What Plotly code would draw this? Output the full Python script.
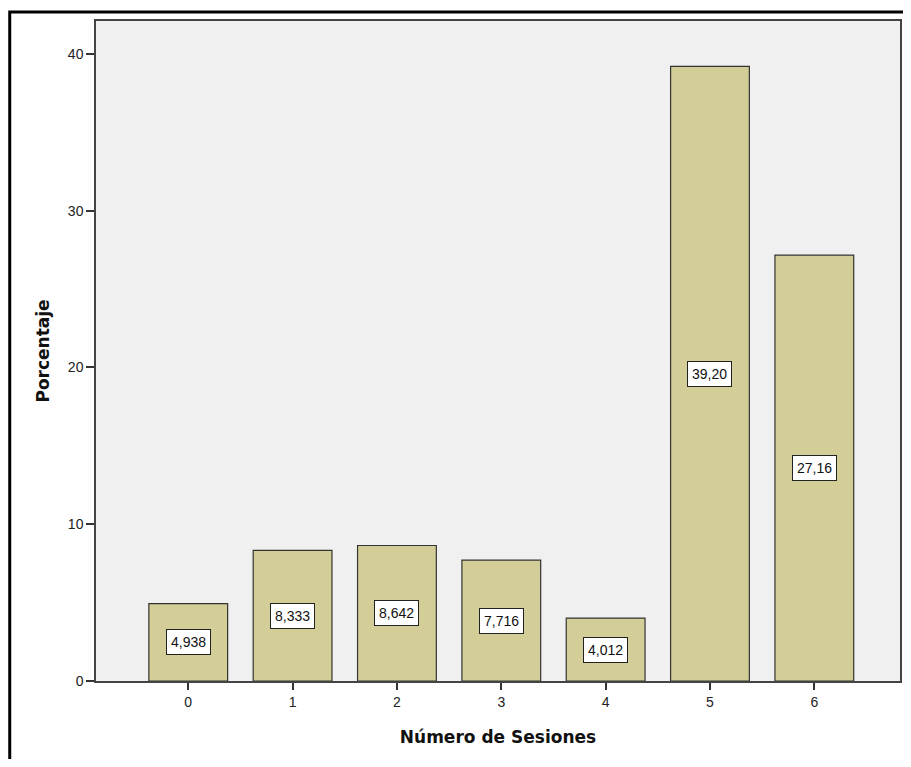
import plotly.graph_objects as go

sesiones = [0, 1, 2, 3, 4, 5, 6]
porcentaje = [4.938, 8.333, 8.642, 7.716, 4.012, 39.20, 27.16]
etiquetas = ["4,938", "8,333", "8,642", "7,716", "4,012", "39,20", "27,16"]
y_ticks = [0, 10, 20, 30, 40]

BAR_COLOR = "#D3CE97"
BG = "#F0F0F0"
FONT = "DejaVu Sans"
TICKFONT = "Liberation Sans"

fig = go.Figure()
fig.add_trace(go.Bar(
    x=sesiones, y=porcentaje, width=0.755,
    marker=dict(color=BAR_COLOR, line=dict(color="#333333", width=1.2)),
    hoverinfo="x+y", showlegend=False,
))

for xv, yv, lab in zip(sesiones, porcentaje, etiquetas):
    fig.add_annotation(
        x=xv, y=yv / 2, text=lab, showarrow=False,
        font=dict(family=TICKFONT, size=14, color="#111111"),
        bgcolor="white", bordercolor="#222222", borderwidth=1, borderpad=4,
        xanchor="center", yanchor="middle",
    )

# outer black frame of the image
fig.add_shape(type="rect", xref="paper", yref="paper",
              x0=-0.1073, x1=1.08, y0=-0.25, y1=1.0136,
              line=dict(color="black", width=3), layer="above")

fig.update_layout(
    width=895, height=751,
    margin=dict(l=88, r=1, t=13, b=78),
    paper_bgcolor="white", plot_bgcolor=BG,
    font=dict(family=TICKFONT, size=14, color="#222222"),
    bargap=0.25,
)
fig.update_xaxes(
    range=[-0.884, 6.821], tickmode="array", tickvals=sesiones,
    ticktext=[str(s) for s in sesiones],
    ticks="outside", ticklen=7, tickcolor="#333333", tickwidth=1.5,
    showline=True, linecolor="#444444", linewidth=1.5, mirror=True,
    showgrid=False, zeroline=False,
    tickfont=dict(family=TICKFONT, size=14, color="#222222"),
    title=dict(text="<b>Número de Sesiones</b>", font=dict(family=FONT, size=17, color="#111111"), standoff=23),
)
fig.update_yaxes(
    range=[0, 42.1], tickmode="array", tickvals=y_ticks,
    ticks="outside", ticklen=8, tickcolor="#333333", tickwidth=1.5,
    showline=True, linecolor="#444444", linewidth=1.5, mirror=True,
    showgrid=False, zeroline=False,
    tickfont=dict(family=TICKFONT, size=14, color="#222222"),
    title=dict(text="<b>Porcentaje</b>", font=dict(family=FONT, size=17, color="#111111"), standoff=14),
)

fig.write_html("out.html")
